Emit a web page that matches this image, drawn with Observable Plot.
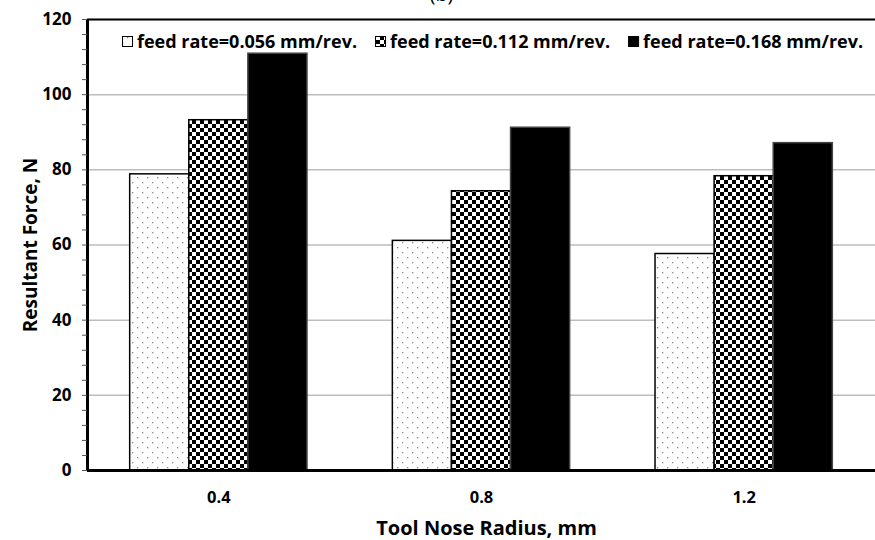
<!DOCTYPE html>
<html>
<head>
<meta charset="utf-8">
<script src="https://cdn.jsdelivr.net/npm/d3@7"></script>
<script src="https://cdn.jsdelivr.net/npm/@observablehq/plot@0.6"></script>
<style>
  body { margin: 0; background: #fff; }
  #chart { position: relative; width: 875px; height: 540px; overflow: hidden; }
</style>
</head>
<body>
<div id="chart"></div>
<script>
// Resultant cutting force vs. tool nose radius, for three feed rates
const radii = [0.4, 0.8, 1.2];
const xTickLabels = ["0.4", "0.8", "1.2"];
const feedLabels = ["feed rate=0.056 mm/rev.", "feed rate=0.112 mm/rev.", "feed rate=0.168 mm/rev."];
const force056 = [78.8, 61.1, 57.6];
const force112 = [93.2, 74.3, 78.3];
const force168 = [110.9, 91.2, 87.1];
const yTicks = [0, 20, 40, 60, 80, 100, 120];
const yMinorTicks = d3.range(0, 121, 4).filter(v => v % 20 !== 0);
const title = "(b)";
const yLabel = "Resultant Force, N";
const xLabel = "Tool Nose Radius, mm";

const font = "'Open Sans', sans-serif";
const barW = 0.09; // width of one bar along the radius axis (mm)
const fills = ["url(#dots)", "url(#checks)", "#000"];

// one row per bar: radius, force, and the bar's extent around the radius
function rowsFor(values, slot) {
  return radii.map((r, j) => ({
    radius: r,
    force: values[j],
    x1: r + (slot - 1.5) * barW,
    x2: r + (slot - 0.5) * barW
  }));
}
const series = [force056, force112, force168].map((v, i) => rowsFor(v, i));

const plot = Plot.plot({
  width: 875,
  height: 540,
  marginLeft: 87,
  marginRight: 0,
  marginTop: 19,
  marginBottom: 70,
  style: { fontFamily: font, fontWeight: "bold", fontSize: "16px", color: "#000", background: "#fff", overflow: "visible" },
  x: { domain: [0.2, 1.4] },
  y: { domain: [0, 120] },
  marks: [
    Plot.gridY(yTicks, { stroke: "#bdbdbd", strokeOpacity: 1, strokeWidth: 1.5 }),
    ...series.map((rows, i) =>
      Plot.rectY(rows, {
        x1: "x1", x2: "x2", y: "force",
        fill: fills[i],
        stroke: i === 2 ? "#444" : "#000",
        strokeWidth: 1.5
      })
    ),
    Plot.ruleY([0], { stroke: "#000", strokeWidth: 3 }),
    Plot.ruleY([120], { stroke: "#000", strokeWidth: 2 }),
    Plot.ruleX([0.2], { stroke: "#000", strokeWidth: 3 }),
    Plot.axisY(yMinorTicks, { tickSize: 5, text: null, stroke: "#555", label: null }),
    Plot.axisY(yTicks, { tickSize: 5, tickPadding: 11, stroke: "#555", fontSize: 17, fontWeight: "bold", label: null }),
    Plot.axisX(radii, { tickSize: 0, tickPadding: 21, tickFormat: (d, i) => xTickLabels[i], fontSize: 16.5, fontWeight: "bold", label: null }),
    Plot.text([yLabel], { frameAnchor: "left", textAnchor: "middle", rotate: -90, dx: -57, fontSize: 19, fontWeight: "bold" }),
    Plot.text([xLabel], { frameAnchor: "bottom", textAnchor: "middle", dy: 64, dx: 5, fontSize: 20, fontWeight: "bold" }),
    Plot.text([title], { frameAnchor: "top", dy: -33, dx: -40, fontSize: 20, fontWeight: "normal", lineAnchor: "top" })
  ]
});

document.getElementById("chart").appendChild(plot);

// fill patterns for the bars and legend swatches
const svg = d3.select(plot);
const defs = svg.insert("defs", ":first-child");
const dots = defs.append("pattern").attr("id", "dots")
  .attr("patternUnits", "userSpaceOnUse").attr("width", 10).attr("height", 10);
dots.append("rect").attr("width", 10).attr("height", 10).attr("fill", "#fff");
dots.append("rect").attr("x", 2).attr("y", 2).attr("width", 1.3).attr("height", 1.3).attr("fill", "#8a8a8a");
dots.append("rect").attr("x", 7).attr("y", 7).attr("width", 1.3).attr("height", 1.3).attr("fill", "#8a8a8a");
const checks = defs.append("pattern").attr("id", "checks")
  .attr("patternUnits", "userSpaceOnUse").attr("width", 8).attr("height", 8);
checks.append("rect").attr("width", 8).attr("height", 8).attr("fill", "#fff");
checks.append("rect").attr("width", 4).attr("height", 4).attr("fill", "#000");
checks.append("rect").attr("x", 4).attr("y", 4).attr("width", 4).attr("height", 4).attr("fill", "#000");

// legend inside the plot frame, along the top
const legend = svg.append("g")
  .attr("font-family", font).attr("font-weight", "bold").attr("font-size", 18)
  .attr("text-anchor", "start");
let lx = 122;
feedLabels.forEach((label, i) => {
  legend.append("rect").attr("x", lx + 0.5).attr("y", 36.5).attr("width", 10).attr("height", 10)
    .attr("fill", fills[i]).attr("stroke", "#000").attr("stroke-width", 1);
  const t = legend.append("text").attr("x", lx + 15).attr("y", 48).text(label);
  lx += 15 + t.node().getComputedTextLength() + 18;
});
</script>
</body>
</html>
